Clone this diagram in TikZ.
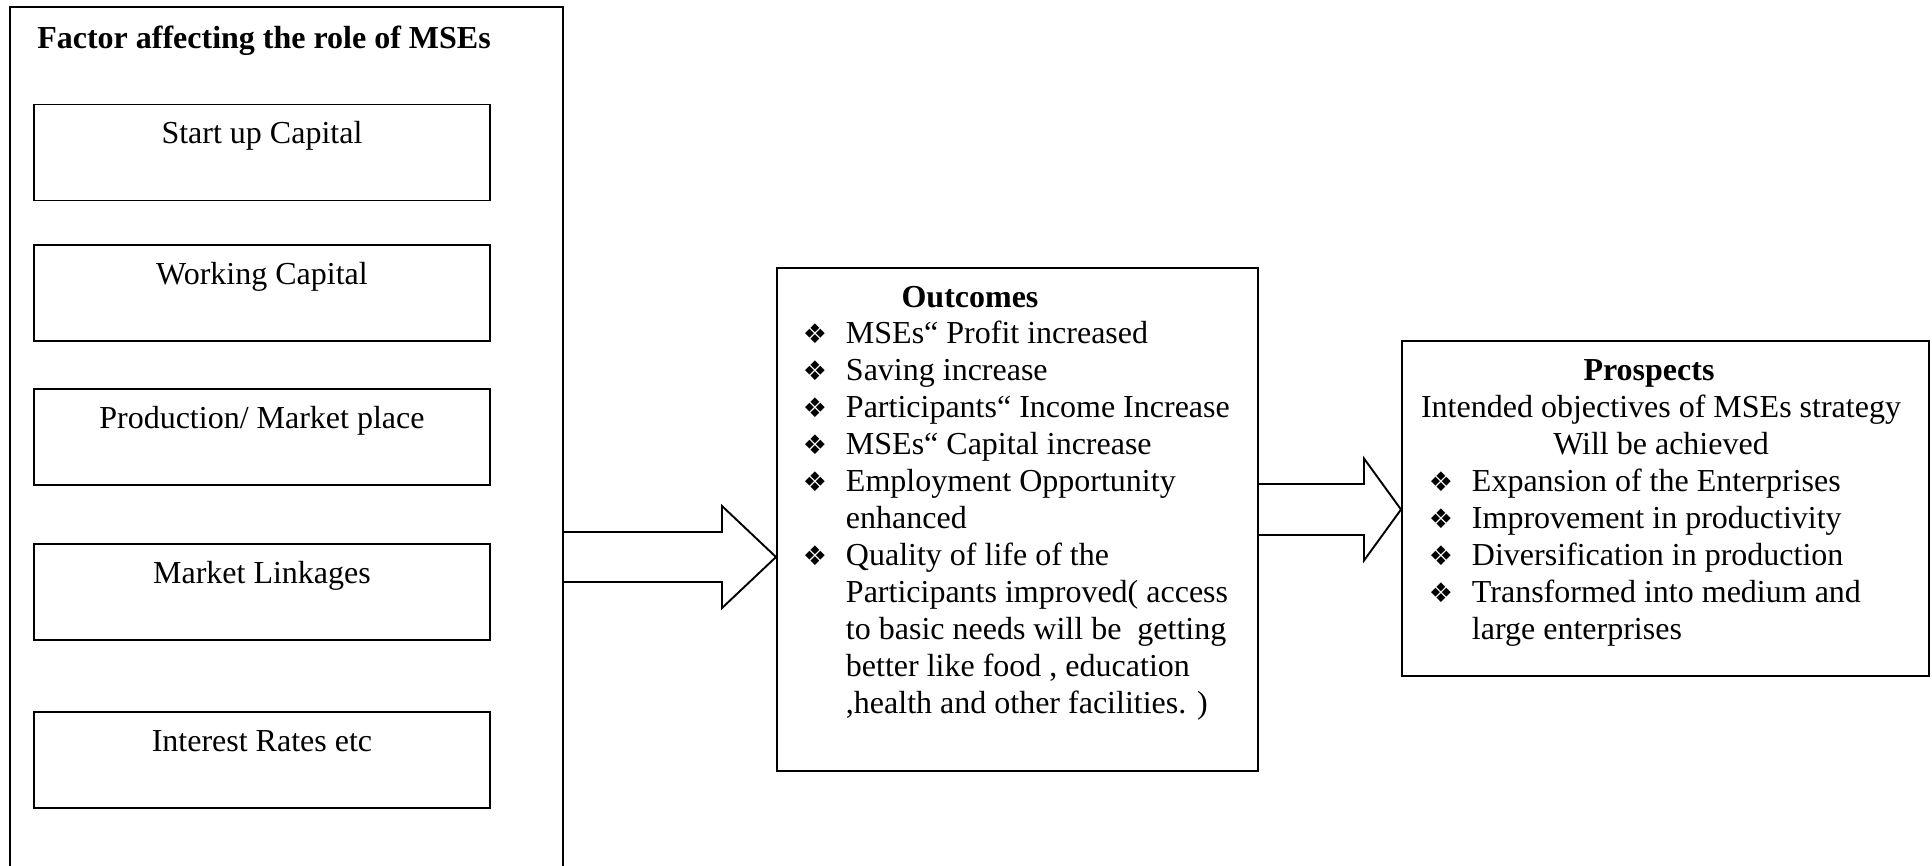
\documentclass[tikz,border=0pt]{standalone}
\usepackage{fontspec}
\setmainfont{Liberation Serif}
\newfontfamily\symfont{DejaVu Sans}
\usetikzlibrary{calc}
\newcommand{\mybul}{\makebox[43pt][l]{\raisebox{0pt}{\symfont\fontsize{27}{27}\selectfont ❖}}}
\newcommand{\myind}{\hspace*{43pt}}
\begin{document}
\begin{tikzpicture}[x=1pt,y=-1pt,line width=1.9pt,
  font=\fontsize{32}{37}\selectfont,
  box/.style={draw, rectangle, inner sep=0pt, anchor=north west},
  fbox/.style={box, minimum width=456pt, minimum height=96pt},
  txt/.style={inner sep=0pt, anchor=base},
  bold/.style={font=\fontsize{32}{37}\selectfont\bfseries},
  list/.style={inner sep=0pt, anchor=base west, align=left},
  blockarrow/.style={draw, line width=1.9pt, line join=miter}]
\useasboundingbox (0,0) rectangle (1932,865);

% left frame (open at the bottom)
\node[inner sep=0pt, anchor=north west, minimum width=551pt, minimum height=875pt] (factor) at (10,7) {};
\draw (factor.south west) -- (factor.north west) -- (factor.north east) -- (factor.south east);
\node[txt, bold] (ftitle) at (264,48) {Factor affecting the role of MSEs};

\node[fbox] (f1) at (33,103.5) {};
\node[txt] (f1t) at ($(f1.north)+(0,40)$) {Start up Capital};
\node[fbox] (f2) at (33,244) {};
\node[txt] (f2t) at ($(f2.north)+(0,40)$) {Working Capital};
\node[fbox] (f3) at (33,388) {};
\node[txt] (f3t) at ($(f3.north)+(0,40)$) {Production/ Market place};
\node[fbox] (f4) at (33,543) {};
\node[txt] (f4t) at ($(f4.north)+(0,40)$) {Market Linkages};
\node[fbox] (f5) at (33,711) {};
\node[txt] (f5t) at ($(f5.north)+(0,40)$) {Interest Rates etc};

% outcomes (anchor = baseline of the last line)
\node[box, minimum width=481pt, minimum height=503pt] (out) at (776,267) {};
\node[txt, bold] (outt) at (970,307) {Outcomes};
\node[list] (outl) at (802,713) {\mybul MSEs“ Profit increased\\
\mybul Saving increase\\
\mybul Participants“ Income Increase\\
\mybul MSEs“ Capital increase\\
\mybul Employment Opportunity\\
\myind enhanced\\
\mybul Quality of life of the\\
\myind Participants improved( access\\
\myind to basic needs will be\ \ getting\\
\myind better like food , education\\
\myind ,health and other facilities. )};

% prospects
\node[box, minimum width=527pt, minimum height=335pt] (pro) at (1401,340) {};
\node[txt, bold] (prot) at (1649,380) {Prospects};
\node[txt] (pro1) at (1661,417) {Intended objectives of MSEs strategy};
\node[txt] (pro2) at (1661,454) {Will be achieved};
\node[list] (prol) at (1428,639) {\mybul Expansion of the Enterprises\\
\mybul Improvement in productivity\\
\mybul Diversification in production\\
\mybul Transformed into medium and\\
\myind large enterprises};

% block arrows
\coordinate (y1) at (0,557);
\coordinate (a1s) at (factor.north east |- y1);
\coordinate (a1e) at (out.north west |- y1);
\draw[blockarrow] ($(a1s)+(0,-25)$) -- ($(a1e)+(-54,-25)$) -- ($(a1e)+(-54,-51)$) -- (a1e)
  -- ($(a1e)+(-54,51)$) -- ($(a1e)+(-54,25)$) -- ($(a1s)+(0,25)$);

\coordinate (y2) at (0,509.5);
\coordinate (a2s) at (out.north east |- y2);
\coordinate (a2e) at (pro.north west |- y2);
\draw[blockarrow] ($(a2s)+(0,-25.5)$) -- ($(a2e)+(-37,-25.5)$) -- ($(a2e)+(-37,-51)$) -- (a2e)
  -- ($(a2e)+(-37,51)$) -- ($(a2e)+(-37,25.5)$) -- ($(a2s)+(0,25.5)$);
\end{tikzpicture}
\end{document}
